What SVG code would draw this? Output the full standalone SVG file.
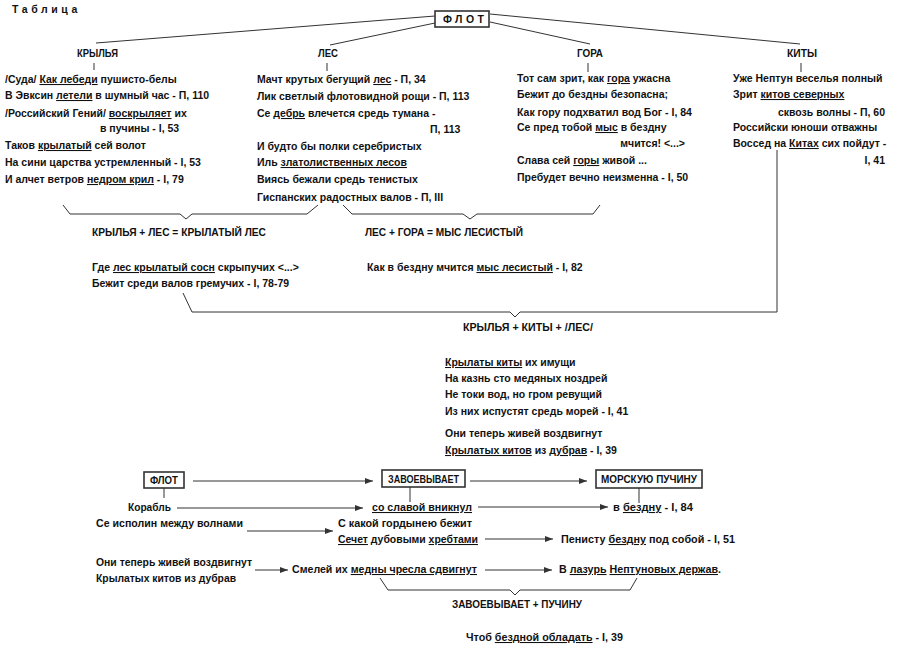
<svg xmlns="http://www.w3.org/2000/svg" width="900" height="649" viewBox="0 0 900 649">
<defs>
<style>
text{font-family:"Liberation Sans",Arial,sans-serif;font-size:10.5px;font-weight:bold;fill:#111}
.u{text-decoration:underline}
.ln{fill:none;stroke:#333;stroke-width:1}
.bx{fill:#fff;stroke:#333;stroke-width:1.6}
</style>
<marker id="ah" viewBox="0 0 8 6" refX="8" refY="3" markerWidth="8" markerHeight="6" markerUnits="userSpaceOnUse" orient="auto">
<path d="M0,0 L8,3 L0,6 z" fill="#333"/>
</marker>
</defs>
<rect width="900" height="649" fill="#fff"/>

<text x="12" y="13" style="letter-spacing:3.6px">Таблица</text>

<g id="connectors">
<path class="ln" d="M435,16 L96,43"/>
<path class="ln" d="M435,23 L330,45"/>
<path class="ln" d="M490,14 L800,44"/>
<path class="ln" d="M490,22 L590,44"/>
<path class="ln" d="M94,63 V70 M327,63 V71 M588,63 V72 M801,63 V72"/>
<path class="ln" d="M63,205 L70,214 H180 L186,219 L192,214 H307 L318,205"/>
<path class="ln" d="M343,205 L352,214 H463 L470,219 L477,214 H593 L600,205"/>
<path class="ln" d="M183,293 L192,312 H510 L515,317 L520,312 H777 V150"/>
<path class="ln" d="M164,488 V498 M410,487 V502 M639,488 V503"/>
<path class="ln" marker-end="url(#ah)" d="M193,481 H373"/>
<path class="ln" marker-end="url(#ah)" d="M470,481 H587"/>
<path class="ln" marker-end="url(#ah)" d="M177,508 H363"/>
<path class="ln" marker-end="url(#ah)" d="M478,507 H608"/>
<path class="ln" marker-end="url(#ah)" d="M247,531 H333"/>
<path class="ln" marker-end="url(#ah)" d="M485,539 H553"/>
<path class="ln" marker-end="url(#ah)" d="M255,570 H288"/>
<path class="ln" marker-end="url(#ah)" d="M485,570 H552"/>
<path class="ln" d="M380,578 L388,590 H510 L515,595 L520,590 H630 L637,578"/>
</g>

<g id="flot-top">
<rect class="bx" x="435" y="11" width="54" height="16"/>
<text x="443" y="23" style="letter-spacing:3.5px">ФЛОТ</text>
</g>

<g id="krylya">
<text x="77" y="57" textLength="41" lengthAdjust="spacingAndGlyphs">КРЫЛЬЯ</text>
<text x="5" y="83">/Суда/  <tspan class="u">Как лебеди</tspan> пушисто-белы</text>
<text x="5" y="99">В Эвксин <tspan class="u">летели</tspan> в шумный час - П, 110</text>
<text x="5" y="117">/Российский Гений/ <tspan class="u">воскрыляет</tspan> их</text>
<text x="100" y="132">в пучины - I, 53</text>
<text x="5" y="149">Таков <tspan class="u">крылатый</tspan> сей волот</text>
<text x="5" y="166">На сини царства устремленный - I, 53</text>
<text x="5" y="183">И алчет ветров <tspan class="u">недром крил</tspan> - I, 79</text>
</g>

<g id="les">
<text x="318" y="57" textLength="20" lengthAdjust="spacingAndGlyphs">ЛЕС</text>
<text x="257" y="83">Мачт крутых бегущий <tspan class="u">лес</tspan> - П, 34</text>
<text x="257" y="100">Лик светлый флотовидной рощи - П, 113</text>
<text x="257" y="117">Се <tspan class="u">дебрь</tspan> влечется средь тумана -</text>
<text x="430" y="133">П, 113</text>
<text x="257" y="150">И будто бы полки серебристых</text>
<text x="257" y="166">Иль <tspan class="u">златолиственных лесов</tspan></text>
<text x="257" y="183">Виясь бежали средь тенистых</text>
<text x="257" y="201">Гиспанских радостных валов - П, III</text>
</g>

<g id="gora">
<text x="577" y="57" textLength="26" lengthAdjust="spacingAndGlyphs">ГОРА</text>
<text x="517" y="82">Тот сам зрит, как <tspan class="u">гора</tspan> ужасна</text>
<text x="517" y="98">Бежит до бездны безопасна;</text>
<text x="517" y="116">Как гору подхватил вод Бог - I, 84</text>
<text x="517" y="131">Се пред тобой <tspan class="u">мыс</tspan> в бездну</text>
<text x="685" y="147" text-anchor="end">мчится! &lt;...&gt;</text>
<text x="517" y="164">Слава сей <tspan class="u">горы</tspan> живой ...</text>
<text x="517" y="181">Пребудет вечно неизменна - I, 50</text>
</g>

<g id="kity">
<text x="787" y="57" textLength="30" lengthAdjust="spacingAndGlyphs">КИТЫ</text>
<text x="733" y="82">Уже Нептун веселья полный</text>
<text x="733" y="98">Зрит <tspan class="u">китов северных</tspan></text>
<text x="885" y="116" text-anchor="end">сквозь волны - П, 60</text>
<text x="733" y="131">Российски юноши отважны</text>
<text x="733" y="147">Воссед на <tspan class="u">Китах</tspan> сих пойдут -</text>
<text x="885" y="164" text-anchor="end">I, 41</text>
</g>

<g id="krylya-les">
<text x="92" y="236" textLength="174" lengthAdjust="spacingAndGlyphs">КРЫЛЬЯ + ЛЕС = КРЫЛАТЫЙ ЛЕС</text>
<text x="92" y="271">Где <tspan class="u">лес крылатый сосн</tspan> скрыпучих &lt;...&gt;</text>
<text x="92" y="287">Бежит среди валов гремучих - I, 78-79</text>
</g>

<g id="les-gora">
<text x="365" y="236" textLength="158" lengthAdjust="spacingAndGlyphs">ЛЕС + ГОРА = МЫС ЛЕСИСТЫЙ</text>
<text x="367" y="271">Как в бездну мчится <tspan class="u">мыс лесистый</tspan> - I, 82</text>
</g>

<g id="krylya-kity">
<text x="463" y="331" textLength="130" lengthAdjust="spacingAndGlyphs">КРЫЛЬЯ + КИТЫ + /ЛЕС/</text>
<text x="445" y="366"><tspan class="u">Крылаты киты</tspan> их имущи</text>
<text x="445" y="382">На казнь сто медяных ноздрей</text>
<text x="445" y="398">Не токи вод, но гром ревущий</text>
<text x="445" y="415">Из них испустят средь морей - I, 41</text>
<text x="445" y="437">Они теперь живей воздвигнут</text>
<text x="445" y="454"><tspan class="u">Крылатых китов</tspan> из <tspan class="u">дубрав</tspan> - I, 39</text>
</g>

<g id="flot-bottom">
<rect class="bx" x="144" y="472" width="40" height="16"/>
<text x="150" y="484" textLength="28" lengthAdjust="spacingAndGlyphs">ФЛОТ</text>
</g>

<g id="zavoevyvaet">
<rect class="bx" x="382" y="470" width="83" height="17"/>
<text x="388" y="483" textLength="71" lengthAdjust="spacingAndGlyphs">ЗАВОЕВЫВАЕТ</text>
</g>

<g id="morskuyu-puchinu">
<rect class="bx" x="596" y="470" width="106" height="18"/>
<text x="601" y="483" textLength="96" lengthAdjust="spacingAndGlyphs">МОРСКУЮ ПУЧИНУ</text>
</g>

<g id="lines-bottom">
<text x="128" y="511" textLength="43" lengthAdjust="spacingAndGlyphs">Корабль</text>
<text x="372" y="511" textLength="100" lengthAdjust="spacingAndGlyphs"><tspan class="u">со славой вникнул</tspan></text>
<text x="613" y="511" textLength="80" lengthAdjust="spacingAndGlyphs">в <tspan class="u">бездну</tspan> - I, 84</text>
<text x="96" y="527" textLength="147" lengthAdjust="spacingAndGlyphs">Се исполин между волнами</text>
<text x="338" y="527" textLength="134" lengthAdjust="spacingAndGlyphs">С какой гордынею бежит</text>
<text x="338" y="543" textLength="140" lengthAdjust="spacingAndGlyphs"><tspan class="u">Сечет</tspan> дубовыми <tspan class="u">хребтами</tspan></text>
<text x="561" y="543" textLength="174" lengthAdjust="spacingAndGlyphs">Пенисту <tspan class="u">бездну</tspan> под собой - I, 51</text>
<text x="96" y="566" textLength="156" lengthAdjust="spacingAndGlyphs">Они теперь живей воздвигнут</text>
<text x="96" y="582" textLength="140" lengthAdjust="spacingAndGlyphs">Крылатых китов из дубрав</text>
<text x="292" y="573" textLength="185" lengthAdjust="spacingAndGlyphs">Смелей их <tspan class="u">медны чресла сдвигнут</tspan></text>
<text x="559" y="573" textLength="162" lengthAdjust="spacingAndGlyphs">В <tspan class="u">лазурь</tspan> <tspan class="u">Нептуновых держав</tspan>.</text>
<text x="452" y="608" textLength="130" lengthAdjust="spacingAndGlyphs">ЗАВОЕВЫВАЕТ + ПУЧИНУ</text>
<text x="466" y="641" textLength="157" lengthAdjust="spacingAndGlyphs">Чтоб <tspan class="u">бездной обладать</tspan> - I, 39</text>
</g>
</svg>
